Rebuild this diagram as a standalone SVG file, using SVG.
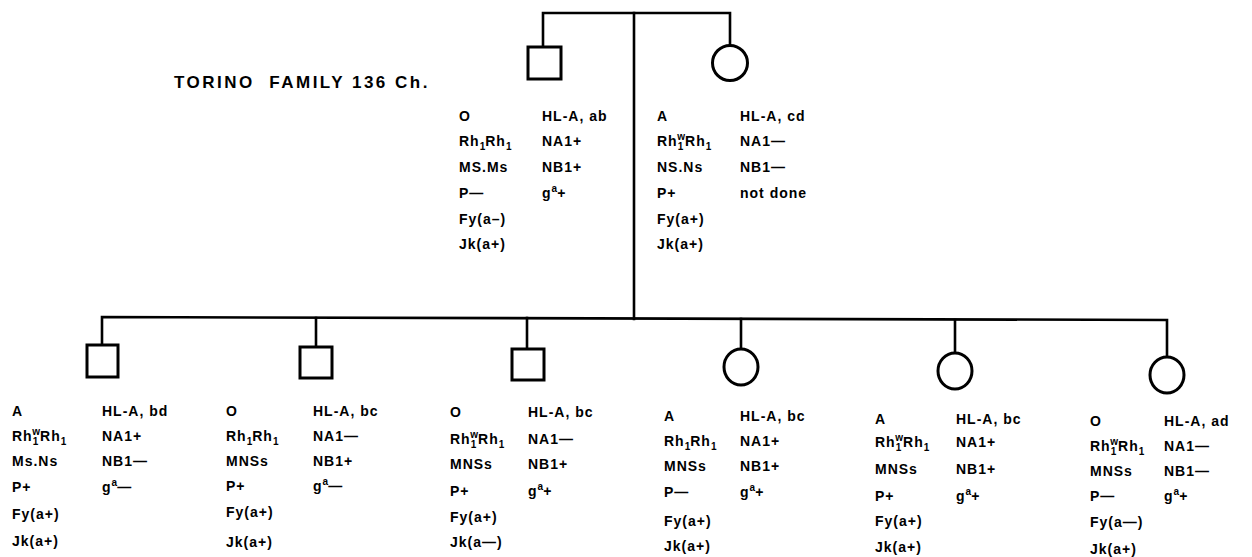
<svg xmlns="http://www.w3.org/2000/svg" width="1252" height="557" viewBox="0 0 1252 557">
<style>
.ln{fill:none;stroke:#000;stroke-width:2.6;stroke-linecap:square}
.sym{fill:#fff;stroke:#000;stroke-width:3}
text{font-family:"Liberation Sans","DejaVu Sans",sans-serif;font-weight:bold;font-size:14px;letter-spacing:1px;fill:#000}
.title{font-size:17px;letter-spacing:2.5px}
.s{font-size:10px;letter-spacing:0}
</style>
<rect width="1252" height="557" fill="#fff"/>
<text class="title" x="174" y="88" xml:space="preserve">TORINO  FAMILY 136 Ch.</text>
<g id="connectors">
<polyline class="ln" points="543,47 543,13 730,13 730,45"/>
<line class="ln" x1="634" y1="13" x2="634" y2="319"/>
<polyline class="ln" points="102,345 102,317 1167,320 1167,357"/>
<line class="ln" x1="316" y1="318" x2="316" y2="347"/>
<line class="ln" x1="527" y1="318" x2="527" y2="349"/>
<line class="ln" x1="741" y1="319" x2="741" y2="349"/>
<line class="ln" x1="955" y1="320" x2="955" y2="353"/>
</g>
<g id="father">
<rect class="sym" x="528" y="47" width="33" height="32"/>
<text x="459" y="121">O</text>
<text x="459" y="146">Rh<tspan class="s" dy="4">1</tspan><tspan dy="-4">Rh</tspan><tspan class="s" dy="4">1</tspan></text>
<text x="459" y="172">MS.Ms</text>
<text x="459" y="198">P—</text>
<text x="459" y="224">Fy(a–)</text>
<text x="459" y="249">Jk(a+)</text>
<text x="542" y="121">HL-A, ab</text>
<text x="542" y="146">NA1+</text>
<text x="542" y="172">NB1+</text>
<text x="542" y="198">g<tspan class="s" dy="-6">a</tspan><tspan dy="6">+</tspan></text>
</g>
<g id="mother">
<ellipse class="sym" cx="730" cy="63" rx="17.5" ry="17.5"/>
<text x="657" y="121">A</text>
<text x="657" y="146">Rh<tspan class="s" dy="4">1</tspan><tspan class="s" dx="-6" dy="-10">w</tspan><tspan dy="6">Rh</tspan><tspan class="s" dy="4">1</tspan></text>
<text x="657" y="172">NS.Ns</text>
<text x="657" y="198">P+</text>
<text x="657" y="224">Fy(a+)</text>
<text x="657" y="249">Jk(a+)</text>
<text x="740" y="121">HL-A, cd</text>
<text x="740" y="146">NA1—</text>
<text x="740" y="172">NB1—</text>
<text x="740" y="198">not done</text>
</g>
<g id="child1">
<rect class="sym" x="87" y="345" width="31" height="32"/>
<text x="12" y="416">A</text>
<text x="12" y="441">Rh<tspan class="s" dy="4">1</tspan><tspan class="s" dx="-6" dy="-10">w</tspan><tspan dy="6">Rh</tspan><tspan class="s" dy="4">1</tspan></text>
<text x="12" y="466">Ms.Ns</text>
<text x="12" y="492">P+</text>
<text x="12" y="519">Fy(a+)</text>
<text x="12" y="546">Jk(a+)</text>
<text x="102" y="416">HL-A, bd</text>
<text x="102" y="441">NA1+</text>
<text x="102" y="466">NB1—</text>
<text x="102" y="492">g<tspan class="s" dy="-6">a</tspan><tspan dy="6">—</tspan></text>
</g>
<g id="child2">
<rect class="sym" x="300" y="347" width="32" height="31"/>
<text x="226" y="416">O</text>
<text x="226" y="441">Rh<tspan class="s" dy="4">1</tspan><tspan dy="-4">Rh</tspan><tspan class="s" dy="4">1</tspan></text>
<text x="226" y="466">MNSs</text>
<text x="226" y="491">P+</text>
<text x="226" y="517">Fy(a+)</text>
<text x="226" y="547">Jk(a+)</text>
<text x="313" y="416">HL-A, bc</text>
<text x="313" y="441">NA1—</text>
<text x="313" y="466">NB1+</text>
<text x="313" y="491">g<tspan class="s" dy="-6">a</tspan><tspan dy="6">—</tspan></text>
</g>
<g id="child3">
<rect class="sym" x="512" y="349" width="32" height="31"/>
<text x="450" y="417">O</text>
<text x="450" y="444">Rh<tspan class="s" dy="4">1</tspan><tspan class="s" dx="-6" dy="-10">w</tspan><tspan dy="6">Rh</tspan><tspan class="s" dy="4">1</tspan></text>
<text x="450" y="469">MNSs</text>
<text x="450" y="496">P+</text>
<text x="450" y="522">Fy(a+)</text>
<text x="450" y="547">Jk(a—)</text>
<text x="528" y="417">HL-A, bc</text>
<text x="528" y="444">NA1—</text>
<text x="528" y="469">NB1+</text>
<text x="528" y="496">g<tspan class="s" dy="-6">a</tspan><tspan dy="6">+</tspan></text>
</g>
<g id="child4">
<ellipse class="sym" cx="741" cy="367" rx="17" ry="18"/>
<text x="664" y="421">A</text>
<text x="664" y="446">Rh<tspan class="s" dy="4">1</tspan><tspan dy="-4">Rh</tspan><tspan class="s" dy="4">1</tspan></text>
<text x="664" y="471">MNSs</text>
<text x="664" y="497">P—</text>
<text x="664" y="526">Fy(a+)</text>
<text x="664" y="551">Jk(a+)</text>
<text x="740" y="421">HL-A, bc</text>
<text x="740" y="446">NA1+</text>
<text x="740" y="471">NB1+</text>
<text x="740" y="497">g<tspan class="s" dy="-6">a</tspan><tspan dy="6">+</tspan></text>
</g>
<g id="child5">
<ellipse class="sym" cx="955" cy="371" rx="17" ry="18"/>
<text x="875" y="424">A</text>
<text x="875" y="447">Rh<tspan class="s" dy="4">1</tspan><tspan class="s" dx="-6" dy="-10">w</tspan><tspan dy="6">Rh</tspan><tspan class="s" dy="4">1</tspan></text>
<text x="875" y="474">MNSs</text>
<text x="875" y="501">P+</text>
<text x="875" y="526">Fy(a+)</text>
<text x="875" y="552">Jk(a+)</text>
<text x="956" y="424">HL-A, bc</text>
<text x="956" y="447">NA1+</text>
<text x="956" y="474">NB1+</text>
<text x="956" y="501">g<tspan class="s" dy="-6">a</tspan><tspan dy="6">+</tspan></text>
</g>
<g id="child6">
<ellipse class="sym" cx="1167" cy="375" rx="17" ry="18"/>
<text x="1090" y="426">O</text>
<text x="1090" y="451">Rh<tspan class="s" dy="4">1</tspan><tspan class="s" dx="-6" dy="-10">w</tspan><tspan dy="6">Rh</tspan><tspan class="s" dy="4">1</tspan></text>
<text x="1090" y="476">MNSs</text>
<text x="1090" y="501">P—</text>
<text x="1090" y="527">Fy(a—)</text>
<text x="1090" y="554">Jk(a+)</text>
<text x="1164" y="426">HL-A, ad</text>
<text x="1164" y="451">NA1—</text>
<text x="1164" y="476">NB1—</text>
<text x="1164" y="501">g<tspan class="s" dy="-6">a</tspan><tspan dy="6">+</tspan></text>
</g>
</svg>
